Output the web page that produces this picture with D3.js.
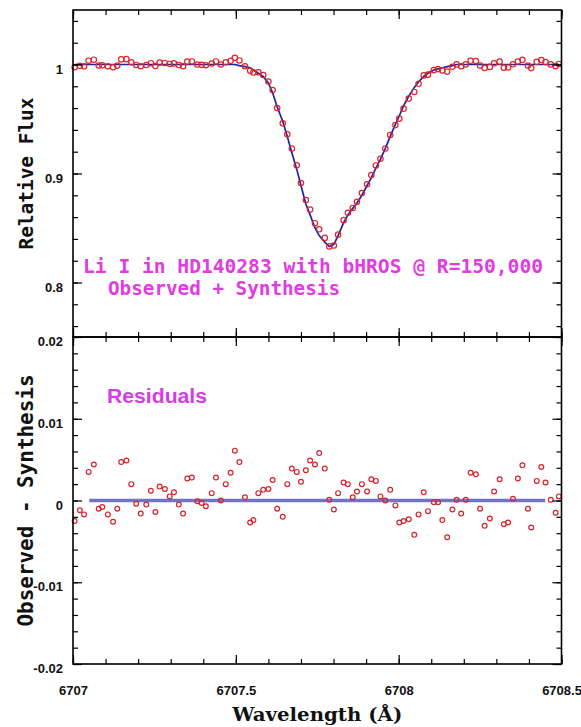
<!DOCTYPE html>
<html>
<head>
<meta charset="utf-8">
<script src="https://cdn.jsdelivr.net/npm/d3@7"></script>
<style>
  body { margin: 0; background: #fff; }
  .tick line { stroke: #000; stroke-width: 1.2; }
  .tick text { font-family: "Liberation Sans", Arial, sans-serif; font-weight: bold; font-size: 13px; fill: #111; }
</style>
</head>
<body>
<svg id="chart"></svg>
<script>
// wavelength of each observed pixel (Å)
const wavelength = [
  6707.005, 6707.021, 6707.034, 6707.048, 6707.064, 6707.079, 6707.090, 6707.107, 6707.123, 6707.136,
  6707.148, 6707.164, 6707.179, 6707.194, 6707.208, 6707.225, 6707.239, 6707.253, 6707.266, 6707.282,
  6707.297, 6707.310, 6707.325, 6707.338, 6707.351, 6707.365, 6707.382, 6707.395, 6707.408, 6707.426,
  6707.439, 6707.454, 6707.469, 6707.484, 6707.497, 6707.511, 6707.528, 6707.544, 6707.554, 6707.569,
  6707.584, 6707.600, 6707.613, 6707.627, 6707.644, 6707.658, 6707.672, 6707.687, 6707.700, 6707.715,
  6707.728, 6707.743, 6707.756, 6707.773, 6707.787, 6707.801, 6707.814, 6707.831, 6707.844, 6707.859,
  6707.872, 6707.887, 6707.903, 6707.916, 6707.930, 6707.944, 6707.959, 6707.974, 6707.990, 6708.002,
  6708.015, 6708.031, 6708.048, 6708.061, 6708.077, 6708.090, 6708.108, 6708.121, 6708.134, 6708.149,
  6708.165, 6708.178, 6708.192, 6708.206, 6708.221, 6708.237, 6708.250, 6708.264, 6708.280, 6708.293,
  6708.310, 6708.323, 6708.336, 6708.351, 6708.366, 6708.380, 6708.397, 6708.407, 6708.424, 6708.438,
  6708.451, 6708.467, 6708.482, 6708.492
];

// synthetic spectrum (blue line)
const synthesis = [
  1.000, 1.000, 1.000, 1.000, 1.000, 1.000, 1.000, 1.000, 1.000, 1.000,
  1.000, 1.000, 1.000, 1.000, 1.000, 1.000, 1.000, 1.000, 1.000, 1.000,
  1.000, 1.000, 1.000, 1.000, 1.000, 1.000, 1.000, 1.000, 1.000, 1.000,
  1.000, 1.000, 1.000, 1.000, 1.000, 0.999, 0.998, 0.997, 0.995, 0.992,
  0.989, 0.983, 0.974, 0.961, 0.948, 0.934, 0.919, 0.904, 0.889, 0.872,
  0.862, 0.850, 0.843, 0.837, 0.833, 0.835, 0.843, 0.855, 0.862, 0.868,
  0.873, 0.880, 0.889, 0.896, 0.905, 0.913, 0.923, 0.934, 0.945, 0.953,
  0.962, 0.971, 0.979, 0.984, 0.989, 0.992, 0.995, 0.996, 0.997, 0.998,
  0.999, 1.000, 1.000, 1.000, 1.000, 1.000, 1.000, 1.000, 1.000, 1.000,
  1.000, 1.000, 1.000, 1.000, 1.000, 1.000, 1.000, 1.000, 1.000, 1.000,
  1.000, 1.000, 1.000, 1.000
];

// observed relative flux (red circles, top panel)
const observed = [
  0.9975, 0.9988, 0.9983, 1.0035, 1.0044, 0.9990, 0.9992, 0.9983, 0.9974, 0.9990,
  1.0047, 1.0049, 1.0020, 0.9996, 0.9984, 0.9995, 1.0012, 0.9986, 1.0017, 1.0014,
  1.0005, 1.0010, 0.9995, 0.9984, 1.0027, 1.0028, 0.9999, 0.9997, 0.9993, 1.0009,
  1.0028, 1.0000, 1.0020, 1.0034, 1.0061, 1.0037, 0.9984, 0.9943, 0.9926, 0.9929,
  0.9903, 0.9844, 0.9765, 0.9600, 0.9460, 0.9360, 0.9229, 0.9075, 0.8913, 0.8757,
  0.8669, 0.8544, 0.8488, 0.8409, 0.8331, 0.8339, 0.8439, 0.8572, 0.8640, 0.8684,
  0.8741, 0.8820, 0.8901, 0.8986, 0.9074, 0.9135, 0.9230, 0.9353, 0.9444, 0.9503,
  0.9595, 0.9687, 0.9748, 0.9823, 0.9900, 0.9907, 0.9948, 0.9958, 0.9946, 0.9935,
  0.9979, 1.0001, 0.9984, 1.0001, 1.0034, 1.0032, 0.9990, 0.9969, 0.9978, 1.0011,
  1.0026, 0.9971, 0.9973, 1.0002, 1.0027, 1.0043, 0.9990, 0.9967, 1.0024, 1.0041,
  1.0022, 1.0001, 0.9985, 1.0005
];

// observed - synthesis (red circles, bottom panel)
const residuals = [
  -0.0025, -0.0012, -0.0017, 0.0035, 0.0044, -0.0010, -0.0008, -0.0017, -0.0026, -0.0010,
  0.0047, 0.0049, 0.0020, -0.0004, -0.0016, -0.0005, 0.0012, -0.0014, 0.0017, 0.0014,
  0.0005, 0.0010, -0.0005, -0.0016, 0.0027, 0.0028, -0.0001, -0.0003, -0.0007, 0.0009,
  0.0028, 0.0000, 0.0020, 0.0034, 0.0061, 0.0047, 0.0004, -0.0027, -0.0024, 0.0009,
  0.0013, 0.0014, 0.0025, -0.0010, -0.0020, 0.0020, 0.0039, 0.0035, 0.0023, 0.0037,
  0.0049, 0.0044, 0.0058, 0.0039, 0.0001, -0.0011, 0.0009, 0.0022, 0.0020, 0.0004,
  0.0011, 0.0020, 0.0011, 0.0026, 0.0024, 0.0005, 0.0000, 0.0013, -0.0006, -0.0027,
  -0.0025, -0.0023, -0.0042, -0.0017, 0.0010, -0.0013, -0.0002, -0.0002, -0.0024, -0.0045,
  -0.0011, 0.0001, -0.0016, 0.0001, 0.0034, 0.0032, -0.0010, -0.0031, -0.0022, 0.0011,
  0.0026, -0.0029, -0.0027, 0.0002, 0.0027, 0.0043, -0.0010, -0.0033, 0.0024, 0.0041,
  0.0022, 0.0001, -0.0015, 0.0005
];

const zeroLineRange = [6707.05, 6708.45];
const waveTicks = [6707, 6707.5, 6708, 6708.5];
const fluxTicks = [0.8, 0.9, 1];
const residTicks = [-0.02, -0.01, 0, 0.01, 0.02];

const width = 581, height = 727;
const left = 73, right = 561.5;
const top0 = 10, mid = 337, bottom = 664;

const svg = d3.select("#chart")
    .attr("width", width)
    .attr("height", height);

const x = d3.scaleLinear().domain([6707, 6708.5]).range([left, right]);
const yFlux = d3.scaleLinear().domain([0.75, 1.05]).range([mid, top0]);
const yRes = d3.scaleLinear().domain([-0.02, 0.02]).range([bottom, mid]);

// draws inward ticks on all four sides of a panel
function frame(yScale, yMajor, yMinorCount, y0, y1, xLabels) {
    const g = svg.append("g");

    const put = (axis, tx, ty) => {
        const a = g.append("g")
            .attr("transform", `translate(${tx},${ty})`)
            .call(axis);
        a.select(".domain").remove();
        return a;
    };

    const minorX = x.ticks(15);
    const minorY = yScale.ticks(yMinorCount);

    // minor ticks
    put(d3.axisBottom(x).tickValues(minorX).tickSize(-5).tickFormat(""), 0, y1);
    put(d3.axisTop(x).tickValues(minorX).tickSize(-5).tickFormat(""), 0, y0);
    put(d3.axisLeft(yScale).tickValues(minorY).tickSize(-5).tickFormat(""), left, 0);
    put(d3.axisRight(yScale).tickValues(minorY).tickSize(-5).tickFormat(""), right, 0);

    // major ticks
    const bx = put(d3.axisBottom(x).tickValues(waveTicks).tickSize(-9)
        .tickFormat(xLabels ? d => String(d) : ""), 0, y1);
    bx.selectAll("text").attr("y", 22);
    put(d3.axisTop(x).tickValues(waveTicks).tickSize(-9).tickFormat(""), 0, y0);
    const ly = put(d3.axisLeft(yScale).tickValues(yMajor).tickSize(-9)
        .tickFormat(d => String(d)), left, 0);
    ly.selectAll("text").attr("x", -10).attr("dy", "0.32em").attr("y", 4.5);
    put(d3.axisRight(yScale).tickValues(yMajor).tickSize(-9).tickFormat(""), right, 0);

    g.append("rect")
        .attr("x", left).attr("y", y0)
        .attr("width", right - left).attr("height", y1 - y0)
        .attr("fill", "none")
        .attr("stroke", "#000")
        .attr("stroke-width", 1.6);
}

// ---- top panel: observed + synthesis
svg.append("path")
    .datum(wavelength.map((w, i) => [w, synthesis[i]]))
    .attr("fill", "none")
    .attr("stroke", "#1d24a6")
    .attr("stroke-width", 1.7)
    .attr("d", d3.line().x(d => x(d[0])).y(d => yFlux(d[1])));

svg.append("g")
    .selectAll("circle")
    .data(wavelength.map((w, i) => [w, observed[i]]))
    .join("circle")
    .attr("cx", d => x(d[0]))
    .attr("cy", d => yFlux(d[1]))
    .attr("r", 2.7)
    .attr("fill", "none")
    .attr("stroke", "#e0242a")
    .attr("stroke-width", 1.2);

frame(yFlux, fluxTicks, 15, top0, mid, false);

// ---- bottom panel: residuals
svg.append("line")
    .attr("x1", x(zeroLineRange[0]))
    .attr("x2", x(zeroLineRange[1]))
    .attr("y1", yRes(0))
    .attr("y2", yRes(0))
    .attr("stroke", "#7074c4")
    .attr("stroke-width", 3.5);

svg.append("g")
    .selectAll("circle")
    .data(wavelength.map((w, i) => [w, residuals[i]]))
    .join("circle")
    .attr("cx", d => x(d[0]))
    .attr("cy", d => yRes(d[1]))
    .attr("r", 2.4)
    .attr("fill", "none")
    .attr("stroke", "#d8222a")
    .attr("stroke-width", 1.2);

frame(yRes, residTicks, 20, mid, bottom, true);

// ---- labels
const magenta = "#e03ce0";

svg.append("text")
    .attr("x", 83).attr("y", 273)
    .attr("textLength", 460).attr("lengthAdjust", "spacingAndGlyphs")
    .style("font-family", "'DejaVu Sans Mono', monospace")
    .style("font-weight", "bold")
    .style("font-size", "19.5px")
    .style("fill", magenta)
    .text("Li I in HD140283 with bHROS @ R=150,000");

svg.append("text")
    .attr("x", 108).attr("y", 295)
    .attr("textLength", 232).attr("lengthAdjust", "spacingAndGlyphs")
    .style("font-family", "'DejaVu Sans Mono', monospace")
    .style("font-weight", "bold")
    .style("font-size", "19.5px")
    .style("fill", magenta)
    .text("Observed + Synthesis");

svg.append("text")
    .attr("x", 107).attr("y", 403)
    .attr("textLength", 100).attr("lengthAdjust", "spacingAndGlyphs")
    .style("font-family", "'Liberation Sans', Arial, sans-serif")
    .style("font-weight", "bold")
    .style("font-size", "20px")
    .style("fill", "#d63ce6")
    .text("Residuals");

svg.append("text")
    .attr("transform", `translate(33,${(top0 + mid) / 2}) rotate(-90)`)
    .attr("text-anchor", "middle")
    .attr("textLength", 152).attr("lengthAdjust", "spacingAndGlyphs")
    .style("font-family", "'DejaVu Sans Mono', monospace")
    .style("font-weight", "bold")
    .style("font-size", "20px")
    .style("fill", "#111")
    .text("Relative Flux");

svg.append("text")
    .attr("transform", `translate(33,${(mid + bottom) / 2}) rotate(-90)`)
    .attr("text-anchor", "middle")
    .attr("textLength", 252).attr("lengthAdjust", "spacingAndGlyphs")
    .style("font-family", "'DejaVu Sans Mono', monospace")
    .style("font-weight", "bold")
    .style("font-size", "21px")
    .style("fill", "#111")
    .text("Observed - Synthesis");

svg.append("text")
    .attr("x", (left + right) / 2).attr("y", 721)
    .attr("text-anchor", "middle")
    .attr("textLength", 170).attr("lengthAdjust", "spacingAndGlyphs")
    .style("font-family", "'DejaVu Serif', serif")
    .style("font-weight", "bold")
    .style("font-size", "19px")
    .style("fill", "#111")
    .text("Wavelength (Å)");
</script>
</body>
</html>
